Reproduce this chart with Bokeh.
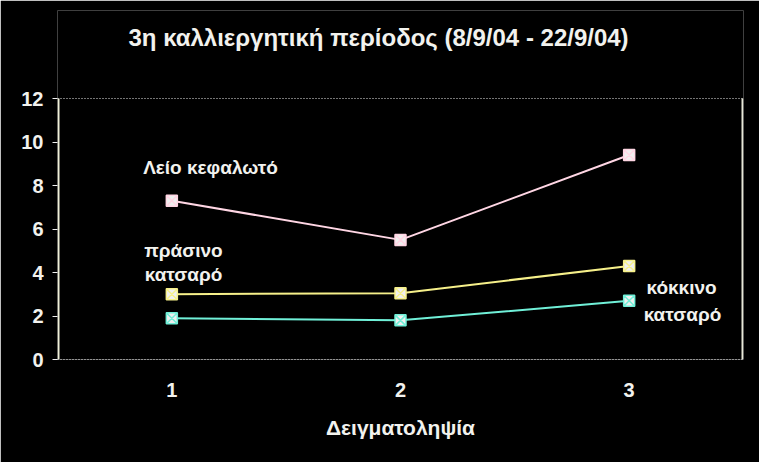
from bokeh.plotting import figure
from bokeh.models import Range1d, FactorRange, FixedTicker, Label
from bokeh.embed import file_html
from bokeh.resources import INLINE

# ---- data ----
samples = ["1", "2", "3"]
leio_kefaloto = [7.3, 5.5, 9.4]
prasino_katsaro = [3.0, 3.05, 4.3]
kokkino_katsaro = [1.9, 1.8, 2.7]
y_ticks = [0, 2, 4, 6, 8, 10, 12]
y_max = 12

title_text = "3η καλλιεργητική περίοδος (8/9/04 - 22/9/04)"
x_label = "Δειγματοληψία"

TXT = "#f2f2ee"
FONT = "Liberation Sans"

# frame extends above the value axis so the title can sit inside it
FRAME_H = 349
PX_PER_UNIT = 261 / y_max
p = figure(x_range=FactorRange(*samples), y_range=Range1d(0, FRAME_H / PX_PER_UNIT),
           frame_width=686, frame_height=FRAME_H,
           min_border_left=57, min_border_right=16, min_border_top=10, min_border_bottom=103,
           output_backend="svg", toolbar_location=None,
           background_fill_color="black", border_fill_color="black")
p.outline_line_color = None

# title
p.add_layout(Label(x=1.404, y=(359 - 37) / PX_PER_UNIT, text=title_text,
                   text_align="center", text_baseline="middle",
                   text_font=FONT, text_font_size="24px", text_font_style="bold",
                   text_color=TXT))

# axes
p.yaxis.ticker = FixedTicker(ticks=y_ticks)
p.yaxis.major_label_text_font = FONT
p.yaxis.major_label_text_font_size = "20px"
p.yaxis.major_label_text_font_style = "bold"
p.yaxis.major_label_text_color = TXT
p.yaxis.axis_line_color = None
p.yaxis.major_tick_line_color = "#f0f0f0"
p.yaxis.major_tick_out = 5
p.yaxis.major_tick_in = 0
p.yaxis.minor_tick_line_color = None
p.yaxis.major_label_standoff = 9

p.xaxis.axis_line_color = "#e8e8e8"
p.xaxis.axis_line_dash = "1 2"
p.xaxis.major_tick_line_color = None
p.xaxis.major_label_text_font = FONT
p.xaxis.major_label_text_font_size = "20px"
p.xaxis.major_label_text_font_style = "bold"
p.xaxis.major_label_text_color = TXT
p.xaxis.major_label_standoff = 17
p.xaxis.axis_label = x_label
p.xaxis.axis_label_text_font = FONT
p.xaxis.axis_label_text_font_size = "21px"
p.xaxis.axis_label_text_font_style = "bold"
p.xaxis.axis_label_text_color = TXT
p.xaxis.axis_label_standoff = 16

p.xgrid.grid_line_color = None
p.ygrid.ticker = FixedTicker(ticks=[y_max])
p.ygrid.grid_line_color = "#e8e8e8"
p.ygrid.grid_line_dash = "1 2"

# plot-area left axis line and right border (only between 0 and 12)
px_x = 1 / 228.67
p.segment(x0=[px_x], y0=[0], x1=[px_x], y1=[y_max], line_color="#f0f0d8", line_width=2)
p.segment(x0=[3 - px_x], y0=[0], x1=[3 - px_x], y1=[y_max], line_color="#e8e8d8", line_width=2)

# series
series = [
    (leio_kefaloto, "#ffd6e4"),
    (prasino_katsaro, "#f6f08a"),
    (kokkino_katsaro, "#70f0d8"),
]
for vals, col in series:
    p.line(samples, vals, line_color=col, line_width=2)
    p.scatter(samples, vals, marker="square_x", size=11, fill_color="#f0f0f0",
              line_color=col, line_width=1.5)

# in-plot labels
labels = [
    (0.669, 8.83, "Λείο κεφαλωτό"),
    (0.551, 5.03, "πράσινο"),
    (0.551, 3.93, "κατσαρό"),
    (2.729, 3.29, "κόκκινο"),
    (2.733, 2.09, "κατσαρό"),
]
for x, y, t in labels:
    p.add_layout(Label(x=x, y=y, text=t, text_align="center", text_baseline="middle",
                       text_font=FONT, text_font_size="19px", text_font_style="bold",
                       text_color=TXT))

open("out.html", "w").write(file_html(p, INLINE))
